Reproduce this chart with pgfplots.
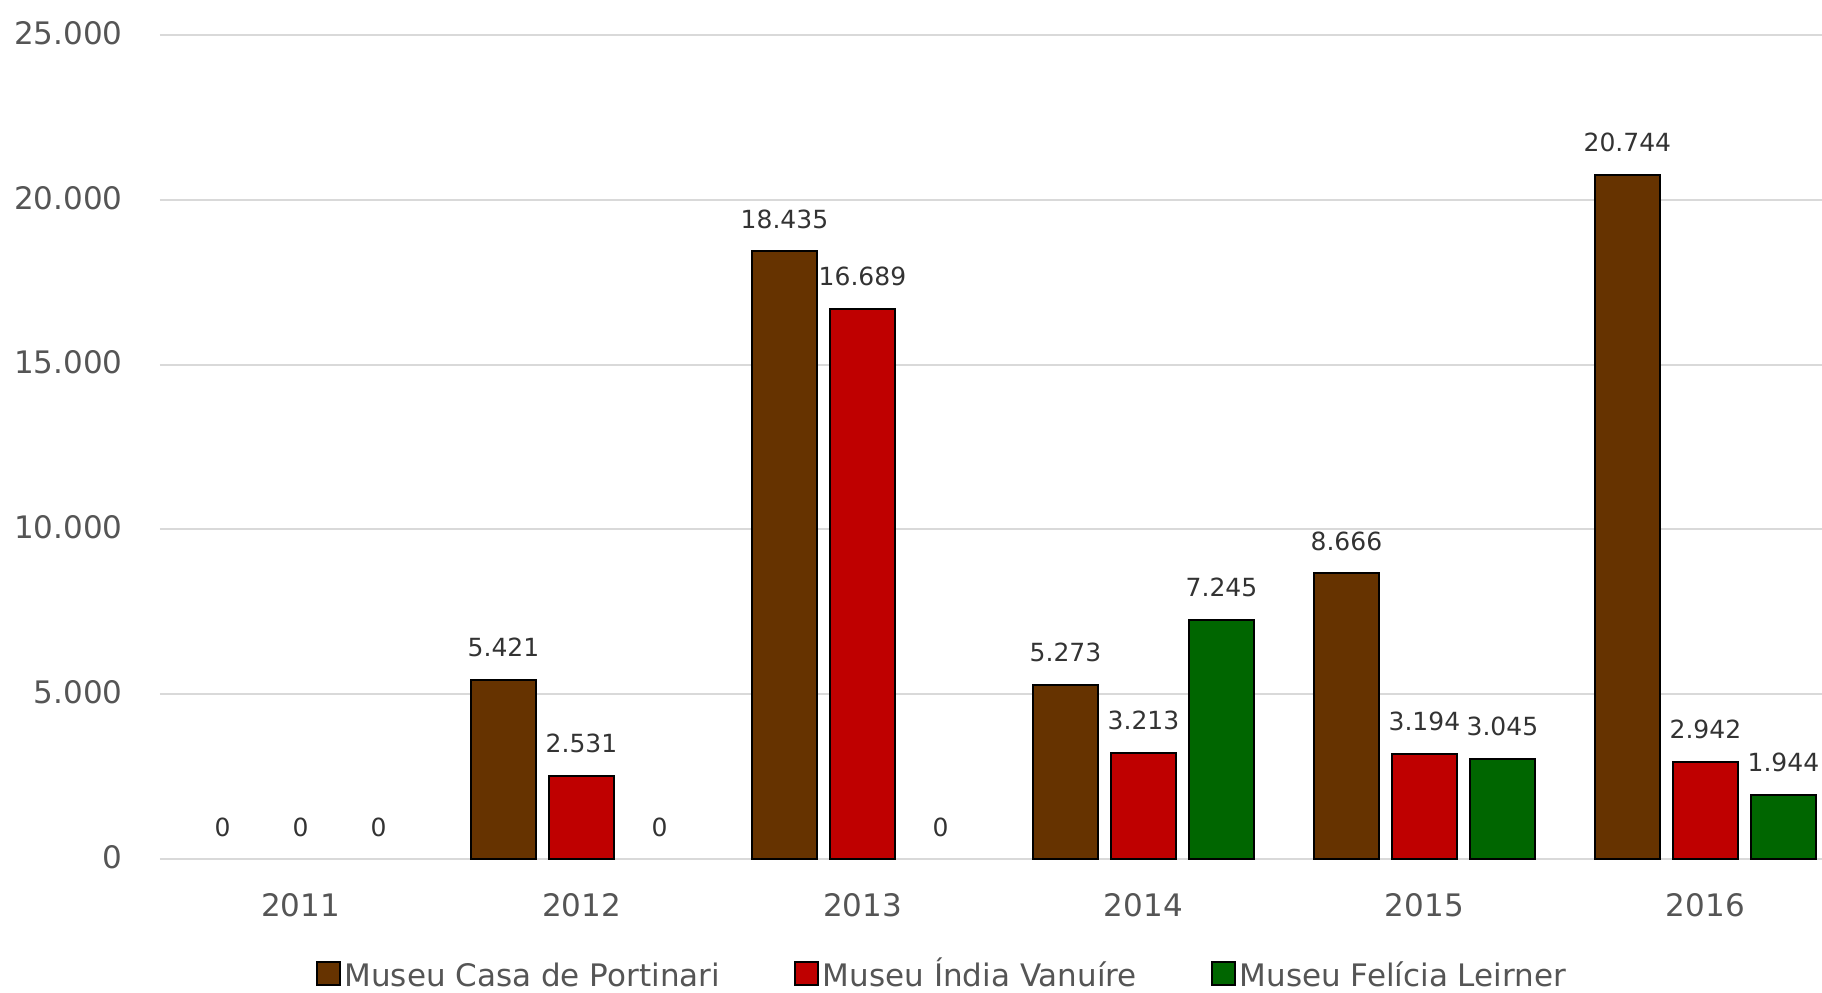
\documentclass[border=0pt]{standalone}
\usepackage{fontspec}
\setmainfont{DejaVu Sans}
\usepackage{pgfplots}
\pgfplotsset{compat=1.18}

\definecolor{cbrown}{HTML}{663300}
\definecolor{cred}{HTML}{BF0000}
\definecolor{cgreen}{HTML}{006600}
\definecolor{tickgray}{HTML}{555555}
\definecolor{labgray}{HTML}{333333}
\definecolor{gridgray}{HTML}{D9D9D9}

\begin{document}
\begin{tikzpicture}
\useasboundingbox (-80pt,-66.5pt) rectangle (831pt,429.5pt);
\begin{axis}[
  at={(0,0)}, anchor=south west,
  scale only axis,
  width=831pt, height=412pt,
  xmin=-0.5, xmax=5.415,
  ymin=0, ymax=25000,
  ybar, bar width=32.5pt,
  axis line style={draw=none},
  major tick style={draw=none},
  ymajorgrids,
  grid style={draw=gridgray, line width=1pt},
  xtick={0,...,5},
  xticklabels={2011,2012,2013,2014,2015,2016},
  ytick={0,5000,...,25000},
  scaled y ticks=false,
  /pgf/number format/.cd, fixed, 1000 sep={.}, assume math mode=true,
  /pgfplots/.cd,
  tick label style={font=\fontsize{15.5}{18}\selectfont, text=tickgray, inner sep=0pt},
  yticklabel style={anchor=east, xshift=-18.5pt, yshift=1pt},
  xticklabel style={anchor=north, yshift=-13pt},
  nodes near coords,
  every node near coord/.append style={font=\fontsize{12.5}{15}\selectfont, text=labgray, anchor=south, inner sep=0pt, yshift=11pt},
  clip=false,
  legend image code/.code={\draw[#1, line width=1pt] (-3pt,-3.5pt) rectangle (8.5pt,8pt);},
  legend style={draw=none, fill=none, legend columns=3,
    font=\fontsize{15.5}{18}\selectfont, text=tickgray,
    nodes={text height=11.5pt, text depth=3pt},
    at={(0.471,-0.144)}, anchor=center,
    /tikz/every even column/.append style={column sep=35pt}},
]
% Museu Casa de Portinari
\addplot[bar shift=-39pt, draw=black, fill=cbrown, line width=1pt]
  coordinates {(1,5421) (2,18435) (3,5273) (4,8666) (5,20744)};
% Museu India Vanuire
\addplot[bar shift=0pt, draw=black, fill=cred, line width=1pt]
  coordinates {(1,2531) (2,16689) (3,3213) (4,3194) (5,2942)};
% Museu Felicia Leirner
\addplot[bar shift=39pt, draw=black, fill=cgreen, line width=1pt]
  coordinates {(3,7245) (4,3045) (5,1944)};
% zero values: labels only
\addplot[bar shift=-39pt, draw=none, fill=none, forget plot] coordinates {(0,0)};
\addplot[bar shift=0pt, draw=none, fill=none, forget plot] coordinates {(0,0)};
\addplot[bar shift=39pt, draw=none, fill=none, forget plot] coordinates {(0,0) (1,0) (2,0)};
\legend{Museu Casa de Portinari, Museu Índia Vanuíre, Museu Felícia Leirner}
\end{axis}
\end{tikzpicture}
\end{document}
